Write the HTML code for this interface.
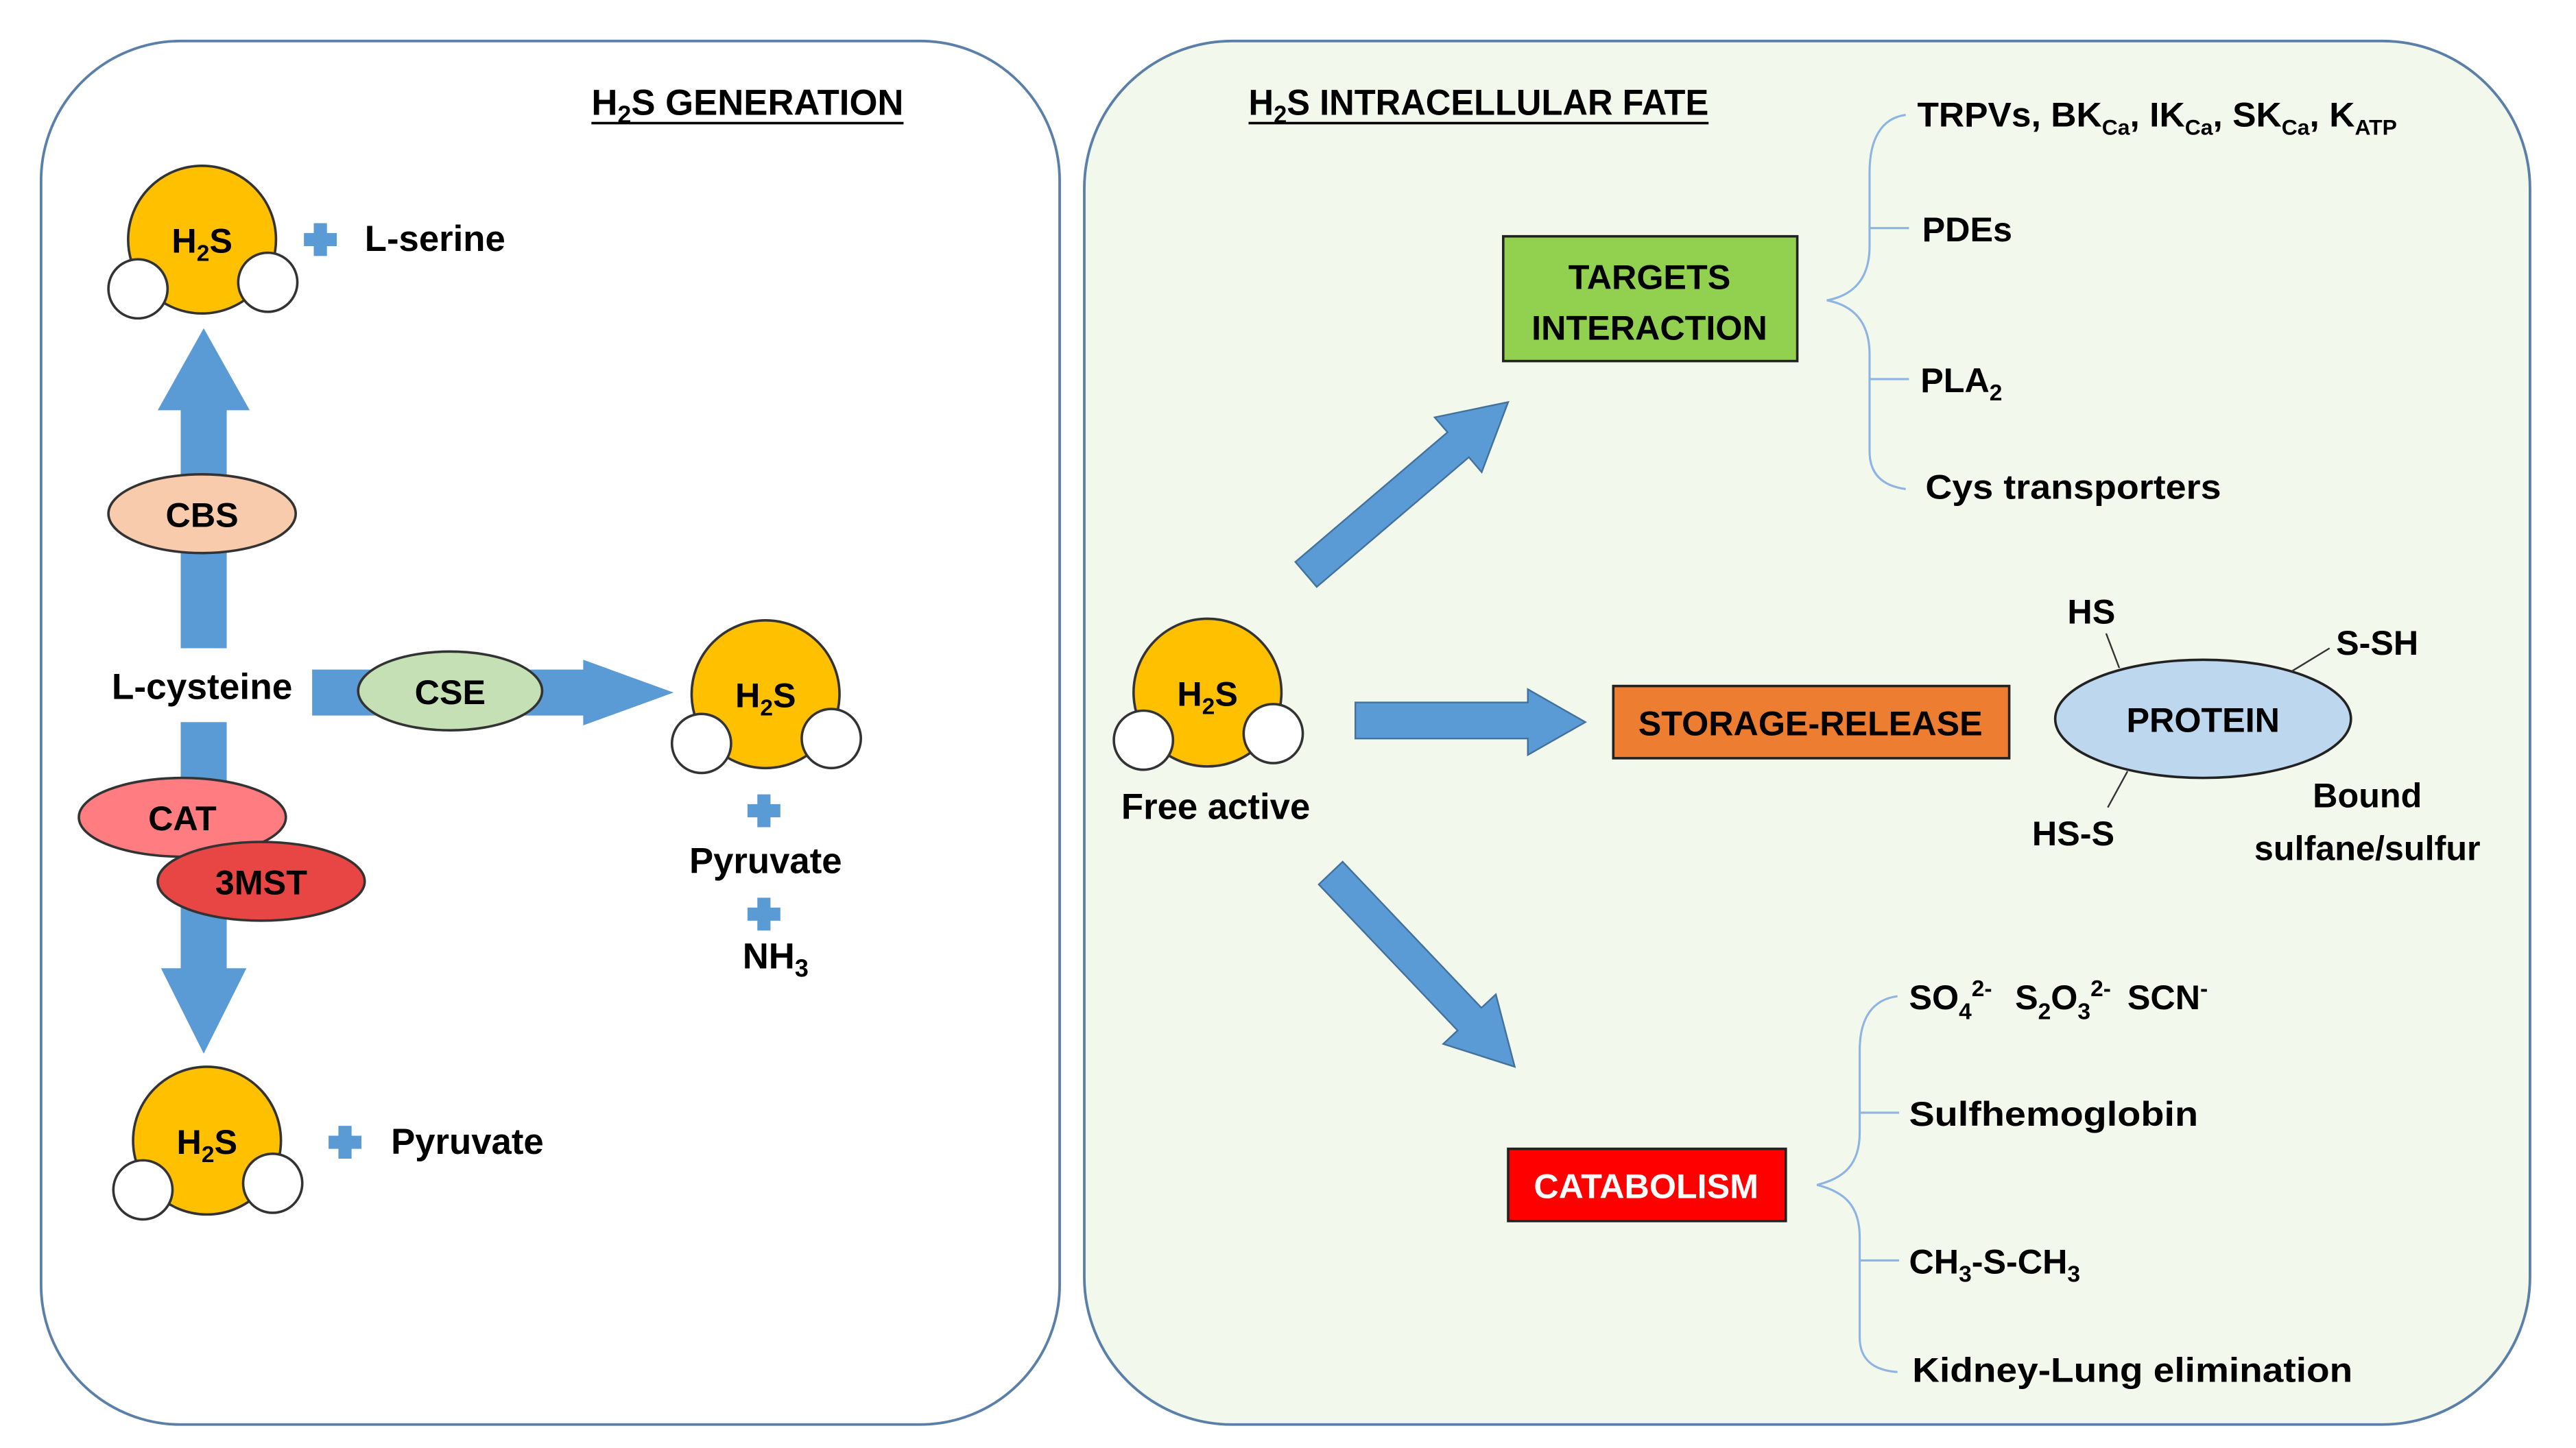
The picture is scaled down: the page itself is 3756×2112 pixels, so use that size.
<!DOCTYPE html>
<html><head><meta charset="utf-8"><style>
html,body{margin:0;padding:0;background:#fff;}
svg{display:block;}
text{font-family:"Liberation Sans",sans-serif;font-weight:bold;fill:#000;}
</style></head><body>
<svg width="3756" height="2112" viewBox="0 0 1568 882.3" preserveAspectRatio="none" xmlns="http://www.w3.org/2000/svg">
<defs>
<g id="plus"><path d="M-4,-10h8v6h6v8h-6v6h-8v-6h-6v-8h6z" fill="#5b9bd5"/></g>
</defs>
<rect x="25" y="25" width="620" height="843" rx="85" ry="85" fill="#fff" stroke="#5a7fa8" stroke-width="1.6"/>
<rect x="660" y="25" width="880" height="843" rx="90" ry="90" fill="#f2f8ec" stroke="#5a7fa8" stroke-width="1.6"/>

<text x="360" y="70" font-size="22" textLength="190" lengthAdjust="spacingAndGlyphs">H<tspan font-size="15" dy="5">2</tspan><tspan dy="-5">S GENERATION</tspan></text>
<line x1="360" y1="75" x2="550" y2="75" stroke="#000" stroke-width="1.5"/>
<text x="760" y="70" font-size="22" textLength="280" lengthAdjust="spacingAndGlyphs">H<tspan font-size="15" dy="5">2</tspan><tspan dy="-5">S INTRACELLULAR FATE</tspan></text>
<line x1="760" y1="75" x2="1040" y2="75" stroke="#000" stroke-width="1.5"/>

<path d="M110,395V250H96L124,200L152,250H138V395Z" fill="#5b9bd5"/>
<path d="M110,440V590H98L124,642L150,590H138V440Z" fill="#5b9bd5"/>
<path d="M190,408H355V402L410,422L355,442V436H190Z" fill="#5b9bd5"/>

<g stroke="#333" stroke-width="1.5">
<circle cx="123" cy="146" r="45" fill="#ffc000"/><circle cx="163" cy="172" r="18" fill="#fff"/><circle cx="84" cy="176" r="18" fill="#fff"/>
<circle cx="466" cy="423" r="45" fill="#ffc000"/><circle cx="506" cy="450" r="18" fill="#fff"/><circle cx="427" cy="453" r="18" fill="#fff"/>
<circle cx="126" cy="695" r="45" fill="#ffc000"/><circle cx="166" cy="721" r="18" fill="#fff"/><circle cx="87" cy="725" r="18" fill="#fff"/>
<circle cx="735" cy="422" r="45" fill="#ffc000"/><circle cx="775" cy="447" r="18" fill="#fff"/><circle cx="696" cy="451" r="18" fill="#fff"/>
</g>
<g font-size="21" text-anchor="middle">
<text x="123" y="154">H<tspan font-size="14" dy="5">2</tspan><tspan dy="-5">S</tspan></text>
<text x="466" y="431">H<tspan font-size="14" dy="5">2</tspan><tspan dy="-5">S</tspan></text>
<text x="126" y="703">H<tspan font-size="14" dy="5">2</tspan><tspan dy="-5">S</tspan></text>
<text x="735" y="430">H<tspan font-size="14" dy="5">2</tspan><tspan dy="-5">S</tspan></text>
</g>

<use href="#plus" x="195" y="146"/>
<use href="#plus" x="465" y="494"/>
<use href="#plus" x="465" y="557"/>
<use href="#plus" x="210" y="696"/>

<text x="222" y="153" font-size="22">L-serine</text>
<text x="68" y="426" font-size="22" textLength="110" lengthAdjust="spacingAndGlyphs">L-cysteine</text>
<text x="466" y="532" font-size="22" text-anchor="middle">Pyruvate</text>
<text x="452" y="590" font-size="22">NH<tspan font-size="15" dy="5">3</tspan></text>
<text x="238" y="703" font-size="22">Pyruvate</text>

<g stroke="#333" stroke-width="1.5">
<ellipse cx="123" cy="313" rx="57" ry="24" fill="#f8cbad"/>
<ellipse cx="274" cy="421" rx="56" ry="24" fill="#c5e0b4"/>
<ellipse cx="111" cy="498" rx="63" ry="24" fill="#ff7c80"/>
<ellipse cx="159" cy="537" rx="63" ry="24" fill="#e84545"/>
</g>
<g font-size="21" text-anchor="middle">
<text x="123" y="321">CBS</text>
<text x="274" y="429">CSE</text>
<text x="111" y="506">CAT</text>
<text x="159" y="545">3MST</text>
</g>

<path d="M801.5,357.6L894.1,278.6L901.9,287.7L918,245L873.3,254.3L881.1,263.4L788.5,342.4Z" fill="#5b9bd5" stroke="#41719c" stroke-width="1"/>
<path d="M825,428H930V420L965,440L930,460V450H825Z" fill="#5b9bd5" stroke="#41719c" stroke-width="1"/>
<path d="M802.75,538.9L887.25,627.9L878.5,636.1L922,650L910.5,605.9L901.75,614.1L817.25,525.1Z" fill="#5b9bd5" stroke="#41719c" stroke-width="1"/>

<text x="740" y="499" font-size="22" text-anchor="middle">Free active</text>

<rect x="915" y="144" width="179" height="76" fill="#92d050" stroke="#222" stroke-width="1.5"/>
<text x="1004" y="176" font-size="21" text-anchor="middle">TARGETS</text>
<text x="1004" y="207" font-size="21" text-anchor="middle">INTERACTION</text>
<rect x="982" y="418" width="241" height="44" fill="#ed7d31" stroke="#222" stroke-width="1.5"/>
<text x="1102" y="448" font-size="21" text-anchor="middle">STORAGE-RELEASE</text>
<rect x="918" y="700" width="169" height="44" fill="#ff0000" stroke="#222" stroke-width="1.5"/>
<text x="1002" y="730" font-size="21" text-anchor="middle" style="fill:#fff">CATABOLISM</text>

<ellipse cx="1341" cy="438" rx="90" ry="36" fill="#bdd7ee" stroke="#222" stroke-width="1.5"/>
<text x="1341" y="446" font-size="21" text-anchor="middle">PROTEIN</text>
<g stroke="#333" stroke-width="1">
<line x1="1282" y1="386" x2="1290" y2="407"/>
<line x1="1418" y1="395" x2="1395" y2="409"/>
<line x1="1295" y1="470" x2="1283" y2="492"/>
</g>
<text x="1273" y="380" font-size="21" text-anchor="middle">HS</text>
<text x="1447" y="399" font-size="21" text-anchor="middle">S-SH</text>
<text x="1262" y="515" font-size="21" text-anchor="middle">HS-S</text>
<text x="1441" y="492" font-size="21" text-anchor="middle">Bound</text>
<text x="1441" y="524" font-size="21" text-anchor="middle">sulfane/sulfur</text>

<g fill="none" stroke="#8db4e2" stroke-width="1.3">
<path d="M1160,70C1145,72 1138,85 1138,105V150C1138,170 1128,180 1112,183C1128,186 1138,196 1138,216V275C1138,288 1145,296 1160,298"/>
<line x1="1138" y1="139" x2="1162" y2="139"/>
<line x1="1138" y1="231" x2="1162" y2="231"/>
<path d="M1155,607C1140,609 1132,620 1132,640V690C1132,710 1122,718 1106,722C1122,726 1132,734 1132,754V815C1132,828 1140,835 1155,836"/>
<line x1="1132" y1="678" x2="1156" y2="678"/>
<line x1="1132" y1="768" x2="1156" y2="768"/>
</g>
<g font-size="21">
<text x="1167" y="77" textLength="292" lengthAdjust="spacingAndGlyphs">TRPVs, BK<tspan font-size="13" dy="5">Ca</tspan><tspan dy="-5">, IK</tspan><tspan font-size="13" dy="5">Ca</tspan><tspan dy="-5">, SK</tspan><tspan font-size="13" dy="5">Ca</tspan><tspan dy="-5">, K</tspan><tspan font-size="13" dy="5">ATP</tspan></text>
<text x="1170" y="147">PDEs</text>
<text x="1169" y="239">PLA<tspan font-size="14" dy="5">2</tspan></text>
<text x="1172" y="304" textLength="180" lengthAdjust="spacingAndGlyphs">Cys transporters</text>
<text x="1162" y="615">SO<tspan font-size="14" dy="6">4</tspan><tspan font-size="14" dy="-14">2-</tspan><tspan dy="8" dx="14">S</tspan><tspan font-size="14" dy="6">2</tspan><tspan dy="-6">O</tspan><tspan font-size="14" dy="6">3</tspan><tspan font-size="14" dy="-14">2-</tspan><tspan dy="8" dx="10">SCN</tspan><tspan font-size="14" dy="-8">-</tspan></text>
<text x="1162" y="686" textLength="176" lengthAdjust="spacingAndGlyphs">Sulfhemoglobin</text>
<text x="1162" y="776">CH<tspan font-size="14" dy="5">3</tspan><tspan dy="-5">-S-CH</tspan><tspan font-size="14" dy="5">3</tspan></text>
<text x="1164" y="842" textLength="268" lengthAdjust="spacingAndGlyphs">Kidney-Lung elimination</text>
</g>
</svg>
</body></html>
